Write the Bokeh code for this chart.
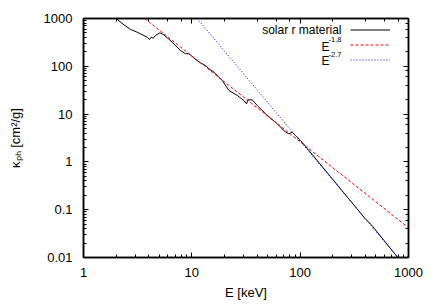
from bokeh.plotting import figure
from bokeh.models import LogAxis, LogTickFormatter, Label, Legend, LegendItem
from bokeh.embed import file_html
from bokeh.resources import INLINE

# ---- data ----
energy_kev = [1.9, 2.05, 2.36, 2.72, 3.13, 3.87, 4.07, 4.22, 4.40, 4.62, 5.07, 5.51,
              6.59, 7.87, 8.75, 9.38, 11.2, 12.0, 13.4, 14.4, 16.0, 19.1, 22.0, 26.3,
              30.2, 32.0, 32.9, 36.1, 40.2, 49.7, 61.5, 73.3, 78.7, 84.6, 90.8, 101,
              191, 402, 430, 466, 760, 800]
kappa_solar = [1150, 953, 738, 589, 517, 406, 364, 406, 387, 441, 502, 456,
               319, 214, 183, 183, 132, 118, 104, 88.7, 75.3, 50.5, 31.2, 24.5,
               19.3, 16.4, 19.9, 19.9, 15.1, 9.35, 6.27, 4.18, 3.87, 4.18, 3.57, 2.80,
               0.488, 0.0632, 0.055, 0.045, 0.0114, 0.0098]
e18_energy = [3.66, 1000]
e18_kappa = [1000, 0.042]
e27_energy = [11.2, 798]
e27_kappa = [1000, 0.01]

FONT = "Liberation Sans"

p = figure(width=428, height=305, x_axis_type="log", y_axis_type="log",
           x_range=(1, 1000), y_range=(0.01, 1000),
           output_backend="svg", toolbar_location=None,
           min_border_left=83, min_border_right=20, min_border_top=18, min_border_bottom=48)
p.grid.visible = False
p.outline_line_color = "black"
p.outline_line_width = 1.5
p.background_fill_color = "white"
p.border_fill_color = "white"

def style_axis(ax, show_labels=True):
    ax.major_tick_in = 5
    ax.major_tick_out = 0
    ax.minor_tick_in = 3
    ax.minor_tick_out = 0
    ax.axis_line_color = "black"
    ax.axis_line_width = 1.5
    ax.major_tick_line_color = "black"
    ax.minor_tick_line_color = "black"
    ax.major_label_text_font = FONT
    ax.major_label_text_color = "black"
    ax.axis_label_text_font = FONT
    ax.axis_label_text_font_style = "normal"
    ax.axis_label_text_color = "black"
    ax.axis_label_text_font_size = "13px"
    ax.formatter = LogTickFormatter(min_exponent=4)
    if show_labels:
        ax.major_label_text_font_size = "13px"
    else:
        ax.major_label_text_font_size = "1px"
        ax.major_label_text_alpha = 0
        ax.major_label_standoff = 0

xa = p.xaxis[0]
ya = p.yaxis[0]
style_axis(xa)
style_axis(ya)
xa.axis_label = "E [keV]"
xa.major_label_standoff = 10
xa.axis_label_standoff = 5
ya.axis_label = "κₚₕ [cm²/g]"
ya.major_label_standoff = 11
ya.axis_label_standoff = 18

top_ax = LogAxis()
right_ax = LogAxis()
style_axis(top_ax, False)
style_axis(right_ax, False)
p.add_layout(top_ax, "above")
p.add_layout(right_ax, "right")

r_black = p.line(energy_kev, kappa_solar, line_color="black", line_width=1)
r_red = p.line(e18_energy, e18_kappa, line_color="#ff0000", line_width=1, line_dash="3 2")
r_blue = p.line(e27_energy, e27_kappa, line_color="#0000ff", line_width=1, line_dash="1 2")

legend = Legend(items=[LegendItem(label=" ", renderers=[r_black]),
                       LegendItem(label=" ", renderers=[r_red]),
                       LegendItem(label=" ", renderers=[r_blue])],
                location=(267, 190), glyph_width=40, glyph_height=15, label_height=15,
                label_width=1, label_standoff=0, padding=0, spacing=0, margin=0,
                border_line_color=None, background_fill_alpha=0,
                label_text_font_size="6px")
p.add_layout(legend)

def lab(x, y, text, size, align="right"):
    p.add_layout(Label(x=x, y=y, x_units="screen", y_units="screen", text=text,
                       text_align=align, text_baseline="middle", text_font=FONT,
                       text_font_size=size, text_color="black"))

lab(258, 227.7, "solar r material", "12px")
lab(246, 210.5, "E", "12px")
lab(258, 218, "-1.8", "7.5px")
lab(246, 196.2, "E", "12px")
lab(258, 203.5, "-2.7", "7.5px")

open("out.html", "w").write(file_html(p, INLINE))
